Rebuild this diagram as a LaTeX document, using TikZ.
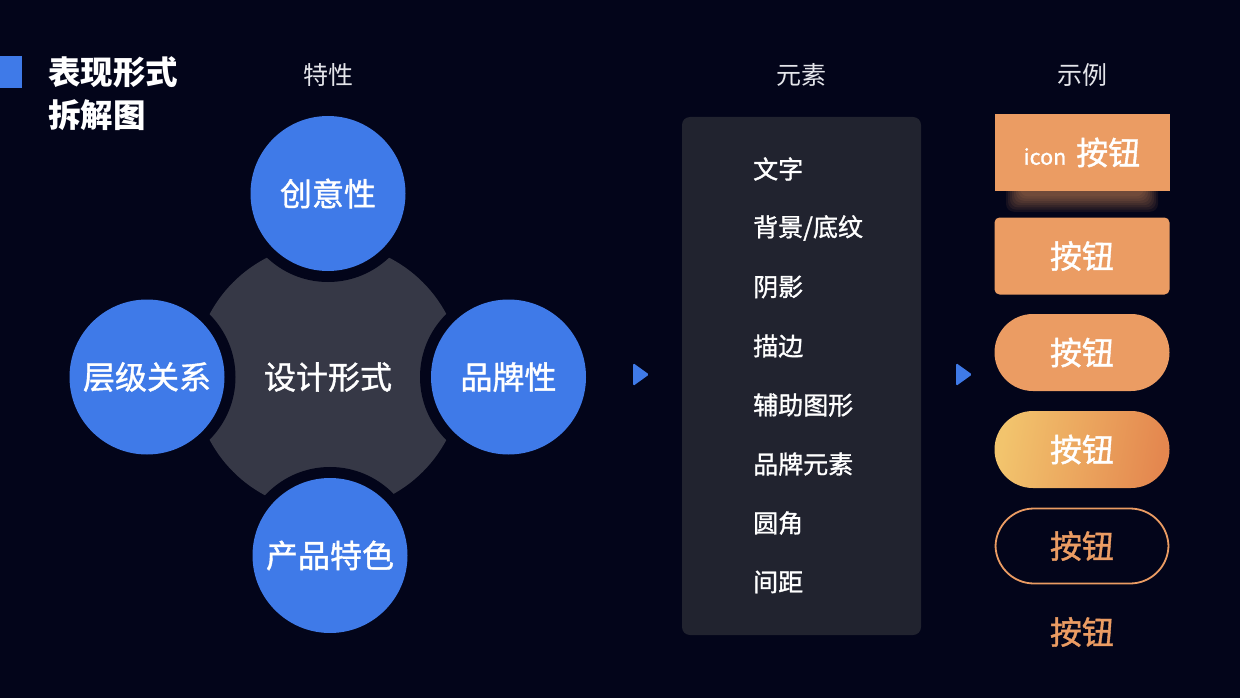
\documentclass[tikz,border=0pt]{standalone}
\usepackage{fontspec}
\setmainfont{Noto Sans CJK SC}
\newfontfamily\cjkmed[FakeBold=1.2]{Noto Sans CJK SC}
\usetikzlibrary{positioning,shapes.geometric,calc}

\definecolor{bgdark}{HTML}{03051A}
\definecolor{featblue}{HTML}{3F7AE8}
\definecolor{coregray}{HTML}{363846}
\definecolor{panelgray}{HTML}{21232F}
\definecolor{btnorange}{HTML}{EB9C63}
\definecolor{btnlight}{HTML}{F2C46D}
\definecolor{btndark}{HTML}{E4874F}
\definecolor{headgray}{HTML}{E4E5EA}

\begin{document}
\begin{tikzpicture}[x=1pt,y=-1pt]
    \tikzstyle{every node}=[inner sep=0,text=white]
    \tikzstyle{head}=[text=headgray,font=\fontsize{25}{30}\selectfont]
    \tikzstyle{feat}=[circle,fill=featblue,minimum size=155,font=\cjkmed\fontsize{32}{36}\selectfont,
                      preaction={draw=bgdark,line width=22}]
    \tikzstyle{core}=[circle,fill=coregray,minimum size=268,font=\cjkmed\fontsize{32}{36}\selectfont]
    \tikzstyle{item}=[anchor=west,font=\cjkmed\fontsize{25}{30}\selectfont]
    \tikzstyle{tri}=[isosceles triangle,isosceles triangle stretches,fill=featblue,
                     minimum height=16,minimum width=23,rounded corners=1.5]
    \tikzstyle{btn}=[rectangle,minimum width=175,minimum height=77,font=\cjkmed\fontsize{32}{36}\selectfont]
    \tikzstyle{pill}=[btn,rounded corners=38.5]

    % background
    \fill[bgdark] (0,0) rectangle (1240,698);
    \useasboundingbox (0,0) rectangle (1240,698);

    % title
    \fill[featblue] (0,56) rectangle (22,88);
    \node[anchor=west,align=left,font=\bfseries\fontsize{32.5}{43}\selectfont] (title) at (48,94) {表现形式\\拆解图};

    % column heads
    \node[head] (hfeat) at (328,75) {特性};
    \node[head] (helem) at (801,75) {元素};
    \node[head] (hcase) at (1082,75) {示例};

    % features
    \node[core] (core) at (328,377) {设计形式};
    \node[feat] (top) at (328,193.5) {创意性};
    \node[feat] (left) at (147,377) {层级关系};
    \node[feat] (right) at (508.5,377) {品牌性};
    \node[feat] (bottom) at (330,555.5) {产品特色};

    \node[tri] (arrA) at (639,374.5) {};
    \node[tri] (arrB) at (962,374.5) {};

    % elements
    \fill[panelgray,rounded corners=8] (682,117) rectangle (921,635);
    \foreach \word [count=\i] in {文字,背景/底纹,阴影,描边,辅助图形,品牌元素,圆角,间距}
        \node[item] (e\i) at (753,{110+59*\i}) {\word};

    % examples
    \foreach \k in {1,...,8}
        \fill[btnorange,opacity=0.08,rounded corners=8] (1004+\k*2,170) rectangle (1160-\k*2,214-\k*2.2);
    \node[btn,fill=btnorange] (b1) at (1082,152.5) {{\fontsize{21.5}{24}\selectfont icon}\hspace{10pt}按钮};
    \node[btn,fill=btnorange,rounded corners=5] (b2) at (1082,256) {按钮};
    \node[pill,fill=btnorange] (b3) at (1082,352.5) {按钮};
    \node[pill,left color=btnlight,right color=btndark,shading angle=80] (b4) at (1082,449.5) {按钮};
    \node[pill,draw=btnorange,line width=1.8,text=btnorange,minimum width=173,minimum height=75] (b5) at (1082,546) {按钮};
    \node[btn,text=btnorange] (b6) at (1082,632) {按钮};
\end{tikzpicture}
\end{document}
